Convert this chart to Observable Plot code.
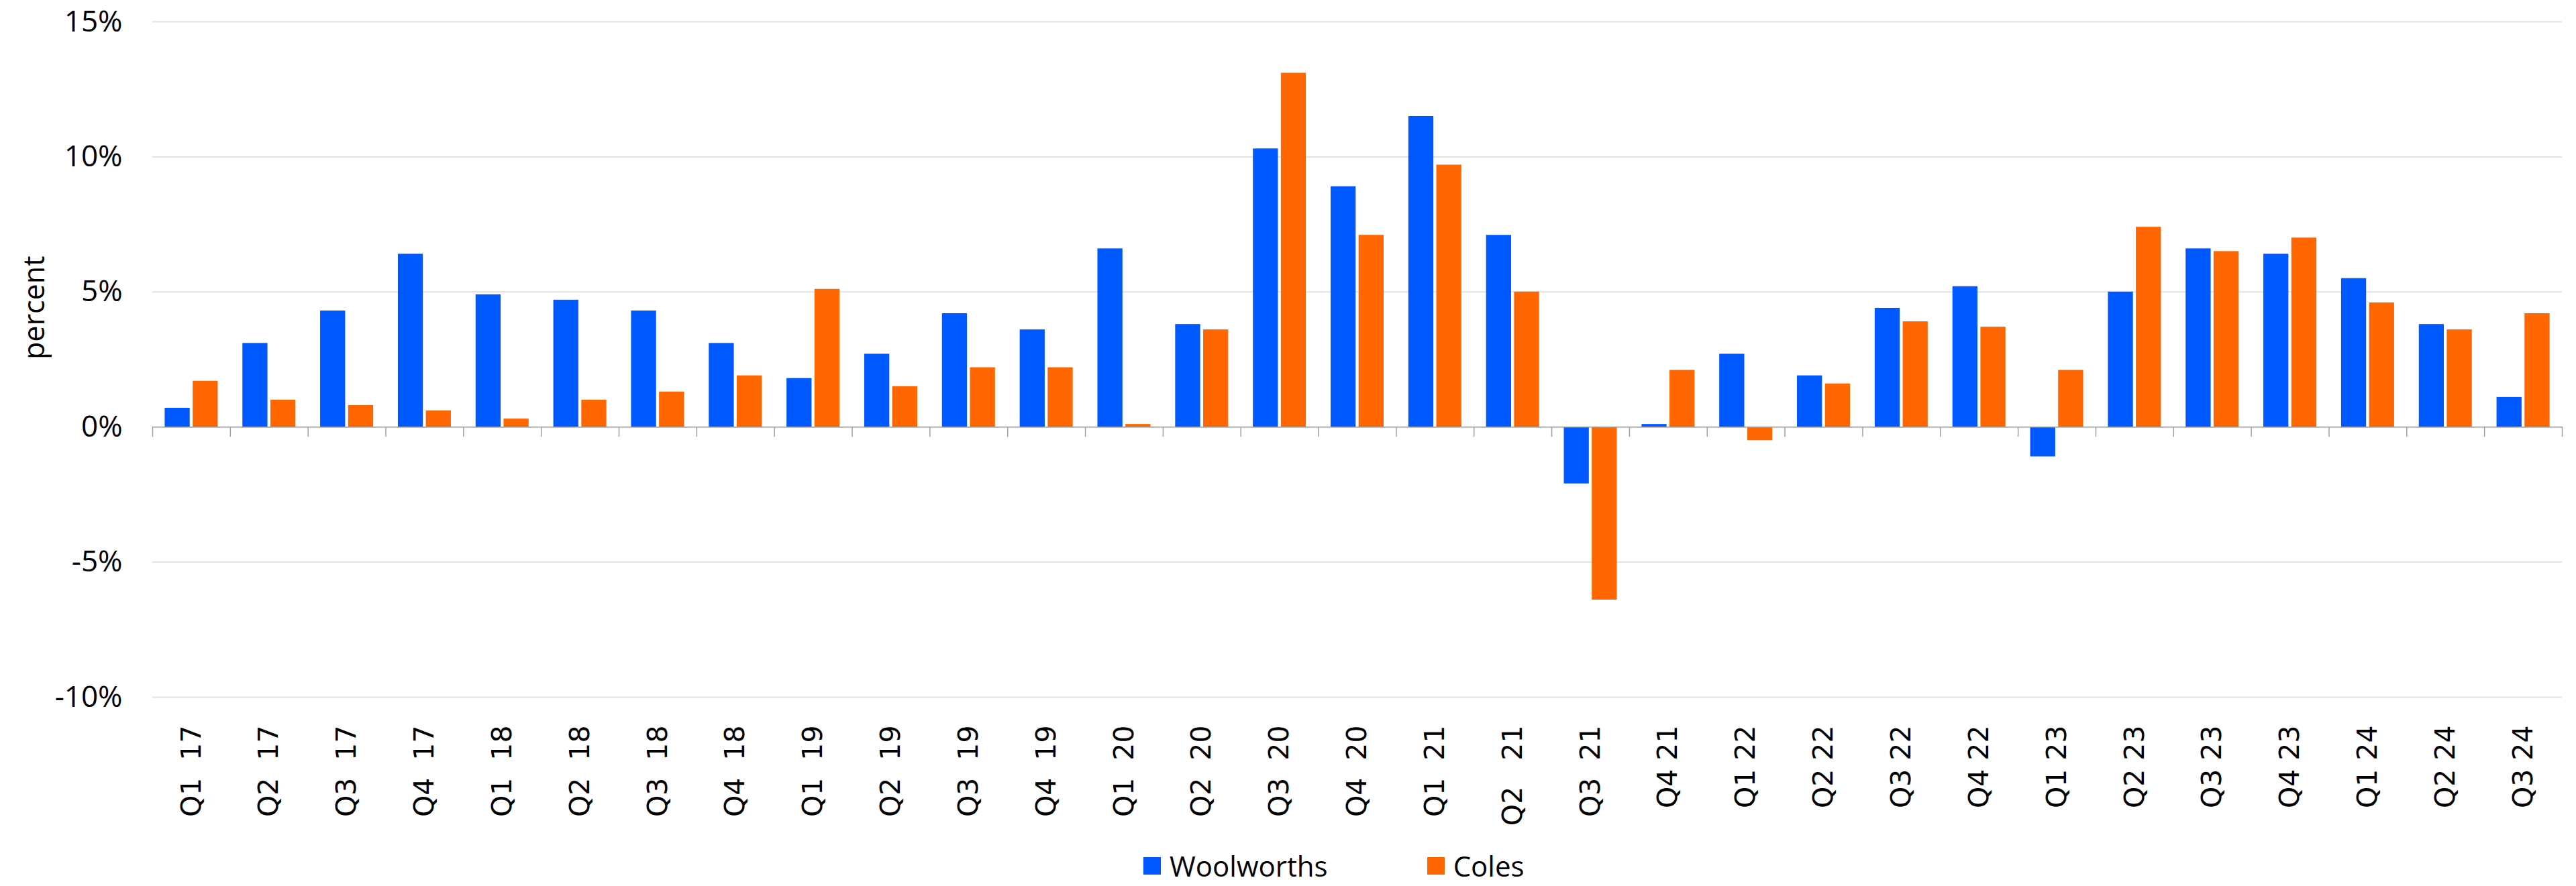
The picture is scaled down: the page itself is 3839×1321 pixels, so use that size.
<!DOCTYPE html>
<html><head><meta charset="utf-8">
<script src="https://cdn.jsdelivr.net/npm/d3@7"></script>
<script src="https://cdn.jsdelivr.net/npm/@observablehq/plot@0.6"></script>
<style>
html,body{margin:0;padding:0;background:#fff;}
#chart{position:relative;width:3839px;height:1321px;overflow:hidden;}
#legend{position:absolute;top:1269px;left:1704px;display:flex;align-items:center;font-family:"Open Sans",sans-serif;font-size:42px;line-height:44px;color:#000;}
.item{display:flex;align-items:center;}
.item + .item{margin-left:148px;}
.sw{width:26px;height:26px;margin-right:13px;}
</style></head><body><div id="chart"></div>
<script>
const quarters = ["Q1  17","Q2  17","Q3  17","Q4  17","Q1  18","Q2  18","Q3  18","Q4  18",
  "Q1  19","Q2  19","Q3  19","Q4  19","Q1  20","Q2  20","Q3  20","Q4  20",
  "Q1  21","Q2   21","Q3  21","Q4 21","Q1 22","Q2 22","Q3 22","Q4 22",
  "Q1 23","Q2 23","Q3 23","Q4 23","Q1 24","Q2 24","Q3 24"];
const woolworths = [0.7,3.1,4.3,6.4,4.9,4.7,4.3,3.1,1.8,2.7,4.2,3.6,6.6,3.8,10.3,8.9,11.5,7.1,-2.1,0.1,2.7,1.9,4.4,5.2,-1.1,5.0,6.6,6.4,5.5,3.8,1.1];
const coles = [1.7,1.0,0.8,0.6,0.3,1.0,1.3,1.9,5.1,1.5,2.2,2.2,0.1,3.6,13.1,7.1,9.7,5.0,-6.4,2.1,-0.5,1.6,3.9,3.7,2.1,7.4,6.5,7.0,4.6,3.6,4.2];
const seriesNames = ["Woolworths","Coles"];
const seriesColors = ["#0058ff","#ff6600"];
const yTicks = [-10,-5,0,5,10,15];
const yLabel = "percent";

const W = 3839, H = 1250, mL = 227, mR = 21, mT = 32, mB = 211;
const step = (W - mL - mR) / quarters.length;
const outer = 0.159 * step, barW = 0.322 * step, gap = 0.038 * step;

const rows = quarters.flatMap((q, i) => [
  {quarter: q, series: seriesNames[0], value: woolworths[i]},
  {quarter: q, series: seriesNames[1], value: coles[i]}
]);

const fmt = d => d.replace(/ /g, "\u00a0");

const chart = Plot.plot({
  width: W, height: H,
  marginLeft: mL, marginRight: mR, marginTop: mT, marginBottom: mB,
  style: {background: "#fff", color: "#000"},
  x: {type: "band", domain: quarters, padding: 0, round: false, label: null},
  y: {domain: [-10, 15], label: null},
  color: {domain: seriesNames, range: seriesColors},
  marks: [
    Plot.ruleY(yTicks, {stroke: "#e2e2e2", strokeWidth: 2}),
    Plot.barY(rows.filter(d => d.series === seriesNames[0]), {
      x: "quarter", y: "value", fill: "series",
      insetLeft: outer, insetRight: step - outer - barW
    }),
    Plot.barY(rows.filter(d => d.series === seriesNames[1]), {
      x: "quarter", y: "value", fill: "series",
      insetLeft: outer + barW + gap, insetRight: step - outer - 2 * barW - gap
    }),
    Plot.ruleY([0], {stroke: "#a0a0a0", strokeWidth: 1.5}),
    Plot.ruleX(quarters, {x: d => d, y1: 0, y2: 0, dx: -step / 2, insetBottom: -15, stroke: "#a0a0a0", strokeWidth: 1.5}),
    Plot.ruleX(quarters.slice(-1), {x: d => d, y1: 0, y2: 0, dx: step / 2, insetBottom: -15, stroke: "#a0a0a0", strokeWidth: 1.5}),
    Plot.axisY({ticks: yTicks, tickFormat: d => d + "%", tickSize: 0, tickPadding: 45,
      fontSize: 44, fontFamily: "Open Sans", label: null}),
    Plot.axisX({anchor: "bottom", tickRotate: -90, tickSize: 0, tickPadding: 42,
      tickFormat: fmt, fontSize: 41, fontFamily: "DejaVu Sans", label: null}),
    Plot.text([yLabel], {text: d => d, frameAnchor: "left", dx: -175, rotate: -90,
      fontSize: 43, fontFamily: "Open Sans", fill: "#000"})
  ]
});

const container = document.getElementById("chart");
container.appendChild(chart);

const legend = document.createElement("div");
legend.id = "legend";
seriesNames.forEach((name, i) => {
  const item = document.createElement("div");
  item.className = "item";
  const sw = document.createElement("span");
  sw.className = "sw";
  sw.style.background = seriesColors[i];
  const t = document.createElement("span");
  t.textContent = name;
  item.appendChild(sw); item.appendChild(t);
  legend.appendChild(item);
});
container.appendChild(legend);
</script>
</body></html>
